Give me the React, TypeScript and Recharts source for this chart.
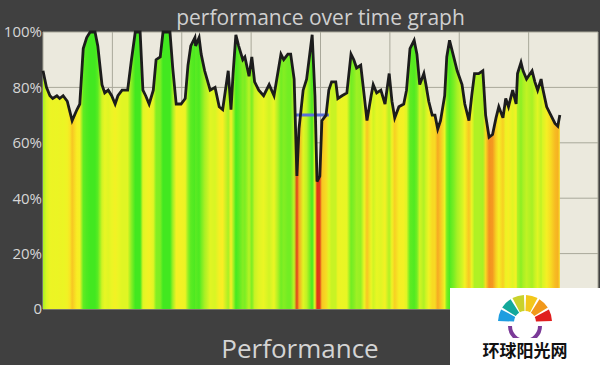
import {
  Area,
  CartesianGrid,
  ComposedChart,
  Line,
  ReferenceLine,
  XAxis,
  YAxis,
} from "recharts";

// time in grid units (one vertical grid line every 10)
const times = [
  0, 0.5, 1.0, 1.4, 2.0, 2.4, 2.9, 3.5, 3.9, 4.2, 4.9, 5.3, 5.8, 6.3, 6.8, 7.5,
  7.9, 8.5, 8.9, 9.4, 9.9, 10.4, 10.8, 11.4, 11.8, 12.2, 12.7, 13.3, 14.0, 14.4,
  14.8, 15.3, 15.9, 16.3, 16.9, 17.3, 18.3, 18.7, 19.2, 19.9, 20.5, 20.9, 21.3,
  21.9, 22.0, 22.5, 22.8, 23.3, 24.1, 24.8, 25.4, 25.9, 26.7, 27.1, 27.4, 27.8,
  28.2, 28.8, 29.1, 29.7, 30.1, 30.5, 31.1, 31.8, 32.6, 33.3, 33.9, 34.3, 34.7,
  35.3, 35.7, 36.2, 36.6, 36.9, 37.5, 38.0, 38.8, 39.2, 39.5, 39.9, 40.2, 40.8,
  41.2, 41.6, 42.2, 42.5, 43.1, 43.8, 44.4, 44.8, 45.2, 45.8, 46.3, 46.7, 47.3,
  47.6, 48.1, 48.7, 49.3, 49.9, 50.3, 50.7, 51.3, 52.0, 52.4, 52.9, 53.5, 53.9,
  54.3, 54.9, 55.2, 55.6, 56.1, 56.5, 56.9, 57.3, 57.9, 58.2, 58.6, 59.2, 59.7,
  60.4, 60.8, 61.4, 61.8, 62.2, 62.8, 63.4, 63.8, 64.3, 64.8, 65.3, 65.7, 66.3,
  66.7, 67.1, 67.7, 68.2, 68.4, 68.9, 69.2, 69.7, 70.5, 70.9, 71.3, 71.8, 72.0,
  72.6, 73.2, 73.8, 74.2, 74.5,
];

const performance = [
  86, 80, 77, 76, 77, 76, 77, 75, 71, 68, 72, 74, 94, 98, 100, 100,
  95, 81, 78, 79, 77, 74, 77, 79, 79, 79, 89, 100, 100, 79,
  77, 74, 79, 90, 91, 100, 100, 87, 74, 74, 76, 88, 95,
  98, 95, 98, 92, 86, 79, 80, 73, 72, 86, 72, 85, 99,
  95, 90, 91, 84, 91, 82, 79, 77, 81, 77, 86, 92, 90,
  92, 92, 83, 48, 65, 79, 83, 99, 77, 46, 48, 68, 70,
  79, 82, 82, 76, 77, 78, 92, 90, 87, 88, 77, 68, 77,
  81, 78, 79, 74, 85, 75, 69, 73, 74, 79, 94, 97, 92,
  81, 85, 81, 75, 70, 70, 65, 68, 77, 91, 97, 91, 86,
  81, 74, 68, 77, 85, 85, 86, 70, 62, 63, 69, 73, 69,
  76, 73, 79, 74, 85, 89, 86, 83, 86, 82, 79, 83, 80,
  73, 70, 67, 66, 70,
];

const yTicks = [0, 20, 40, 60, 80, 100];
const xTicks = [0, 10, 20, 30, 40, 50, 60, 70, 80];

// blue marker segment (time range, level)
const markerStart = 36.2;
const markerEnd = 41.2;
const markerLevel = 70;

const data = times.map((t, i) => ({ t, value: performance[i] }));

const colorStops: [number, number[]][] = [
  [45, [222, 46, 24]],
  [58, [240, 110, 30]],
  [66, [246, 178, 34]],
  [72, [248, 238, 36]],
  [78, [232, 246, 36]],
  [86, [168, 240, 36]],
  [94, [96, 236, 34]],
  [100, [66, 232, 32]],
];

function colorFor(v: number) {
  if (v <= colorStops[0][0]) return `rgb(${colorStops[0][1].join(",")})`;
  for (let i = 1; i < colorStops.length; i++) {
    const [v1, c1] = colorStops[i];
    const [v0, c0] = colorStops[i - 1];
    if (v <= v1) {
      const k = (v - v0) / (v1 - v0);
      const c = c0.map((a, j) => Math.round(a + (c1[j] - a) * k));
      return `rgb(${c.join(",")})`;
    }
  }
  return `rgb(${colorStops[colorStops.length - 1][1].join(",")})`;
}

const t0 = times[0];
const tEnd = times[times.length - 1];

const font = "'Open Sans', 'Noto Sans', sans-serif";

function Logo() {
  const cx = 75;
  const cy = 34;
  const segColors = ["#1e9de0", "#13a89b", "#c9d22c", "#f3c71b", "#f1981b", "#e01e1e"];
  const rIn = 11;
  const rOut = 27;
  const seg = (i: number) => {
    const a0 = Math.PI + (i * Math.PI) / 6 + 0.04;
    const a1 = Math.PI + ((i + 1) * Math.PI) / 6 - 0.04;
    const p = (r: number, a: number) => `${cx + r * Math.cos(a)},${cy + r * Math.sin(a)}`;
    return `M${p(rIn, a0)} L${p(rOut, a0)} A${rOut},${rOut} 0 0 1 ${p(rOut, a1)} L${p(rIn, a1)} A${rIn},${rIn} 0 0 0 ${p(rIn, a0)} Z`;
  };
  return (
    <svg width={150} height={50} style={{ position: "absolute", left: 0, top: 0 }}>
      {segColors.map((c, i) => (
        <path key={c} d={seg(i)} fill={c} />
      ))}
      <path
        d={`M${cx - 15},${cy + 4} A15,15 0 0 0 ${cx + 15},${cy + 4}`}
        stroke="#7b3a98"
        strokeWidth={4}
        fill="none"
      />
    </svg>
  );
}

export default function App() {
  return (
    <div
      style={{
        position: "absolute",
        left: 0,
        top: 0,
        width: 600,
        height: 365,
        background: "#404040",
        overflow: "hidden",
        fontFamily: font,
      }}
    >
      <div
        style={{
          position: "absolute",
          left: 43,
          width: 555,
          top: 3,
          textAlign: "center",
          color: "#cfcfcf",
          fontSize: 21,
          lineHeight: "28px",
        }}
      >
        performance over time graph
      </div>
      <ComposedChart
        width={600}
        height={365}
        data={data}
        margin={{ top: 32, right: 2, bottom: 56, left: 0 }}
      >
        <defs>
          <linearGradient id="perfFill" x1="0" y1="0" x2="1" y2="0">
            {data.map((d, i) => (
              <stop
                key={i}
                offset={(d.t - t0) / (tEnd - t0)}
                stopColor={colorFor(d.value)}
              />
            ))}
          </linearGradient>
        </defs>
        <CartesianGrid fill="#ebe9dd" stroke="#a9a89a" strokeWidth={1} />
        <XAxis
          dataKey="t"
          type="number"
          domain={[0, 80]}
          ticks={xTicks}
          hide
        />
        <YAxis
          domain={[0, 100]}
          ticks={yTicks}
          width={43}
          axisLine={false}
          tickLine={false}
          tickSize={0}
          tickMargin={1}
          tickFormatter={(v) => (v === 0 ? "0" : `${v}%`)}
          tick={{ fill: "#d6d6d6", fontSize: 15, fontFamily: font }}
        />
        <Area
          type="linear"
          dataKey="value"
          stroke="none"
          fill="url(#perfFill)"
          fillOpacity={1}
          isAnimationActive={false}
        />
        <ReferenceLine
          segment={[
            { x: markerStart, y: markerLevel },
            { x: markerEnd, y: markerLevel },
          ]}
          stroke="#5a6fd8"
          strokeWidth={3}
        />
        <Line
          type="linear"
          dataKey="value"
          stroke="#1c1c1c"
          strokeWidth={2.8}
          dot={false}
          isAnimationActive={false}
        />
      </ComposedChart>
      <div
        style={{
          position: "absolute",
          left: 0,
          width: 600,
          top: 333,
          textAlign: "center",
          color: "#d4d4d4",
          fontSize: 26,
          lineHeight: "30px",
        }}
      >
        Performance
      </div>
      <div
        style={{
          position: "absolute",
          left: 450,
          top: 288,
          width: 150,
          height: 77,
          background: "#ffffff",
        }}
      >
        <Logo />
        <div
          style={{
            position: "absolute",
            left: 0,
            width: 150,
            top: 50,
            textAlign: "center",
            fontFamily: "'Noto Sans CJK SC', sans-serif",
            fontWeight: 700,
            fontSize: 17,
            lineHeight: "24px",
            color: "#111",
          }}
        >
          环球阳光网
        </div>
      </div>
    </div>
  );
}
